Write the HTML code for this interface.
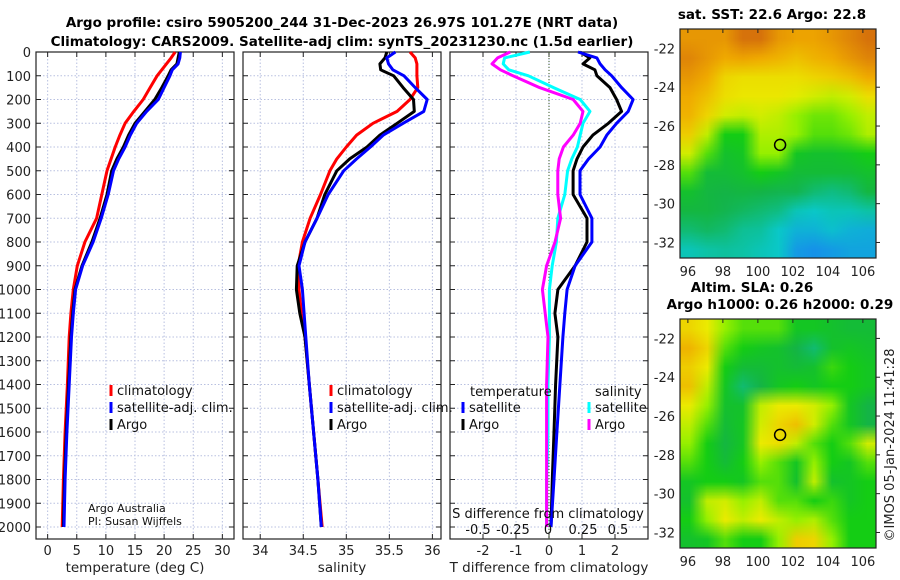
<!DOCTYPE html>
<html><head><meta charset="utf-8"><style>
html,body{margin:0;padding:0;background:#fff;width:900px;height:580px;overflow:hidden}
svg text{font-family:"DejaVu Sans","Liberation Sans",sans-serif}
</style></head><body>
<svg id="fig" width="900" height="580" viewBox="0 0 900 580" xmlns="http://www.w3.org/2000/svg">
<text x="342" y="27" text-anchor="middle" font-size="13.5" font-weight="bold">Argo profile: csiro 5905200_244 31-Dec-2023 26.97S 101.27E (NRT data)</text>
<text x="342" y="46" text-anchor="middle" font-size="13.5" font-weight="bold">Climatology: CARS2009. Satellite-adj clim: synTS_20231230.nc (1.5d earlier)</text>
<g id="p1"></g>
<g id="p2"></g>
<g id="p3"></g>
<g id="m1"></g>
<g id="m2"></g>
<text transform="translate(894,445) rotate(-90)" text-anchor="middle" font-size="13" fill="#222">©IMOS 05-Jan-2024 11:41:28</text>
</svg>
<script>
const depths=[0,25,50,75,100,150,200,250,300,350,400,450,500,600,700,800,900,1000,1100,1200,1400,1600,1800,2000];
const tClim=[21.9,21.2,20.4,19.6,18.8,17.6,16.4,14.8,13.3,12.4,11.6,10.9,10.2,9.3,8.4,6.4,5.1,4.4,4.0,3.7,3.4,3.0,2.7,2.5];
const tSat=[22.8,22.7,22.4,21.4,21.0,20.0,19.0,17.0,15.3,14.2,13.3,12.2,11.3,10.4,9.2,7.8,6.0,4.8,4.4,4.1,3.7,3.3,3.0,2.8];
const tArgo=[22.6,22.4,22.2,21.2,20.7,19.6,18.4,16.7,15.0,13.9,13.0,11.9,11.0,10.2,9.0,7.6,5.9,4.7,4.3,4.0,3.6,3.2,2.9,2.7];
const sClim=[35.74,35.80,35.82,35.82,35.82,35.83,35.74,35.59,35.31,35.12,35.00,34.89,34.81,34.70,34.58,34.49,34.44,34.45,34.48,34.52,34.57,34.62,34.67,34.72];
const sSat=[35.57,35.47,35.49,35.54,35.67,35.80,35.94,35.90,35.66,35.43,35.28,35.12,34.97,34.79,34.66,34.52,34.45,34.49,34.51,34.53,34.57,34.62,34.67,34.71];
const sArgo=[35.47,35.45,35.39,35.40,35.55,35.66,35.78,35.79,35.59,35.39,35.24,35.04,34.89,34.75,34.66,34.52,34.43,34.42,34.46,34.52,34.57,34.62,34.67,34.71];
const dTSat=[0.88,1.45,1.55,1.7,1.9,2.2,2.55,2.4,2.05,1.75,1.55,1.2,0.94,0.94,1.3,1.3,0.79,0.55,0.48,0.42,0.33,0.24,0.15,0.06];
const dTArgo=[0.94,1.24,1.03,1.39,1.45,1.85,2.05,2.2,1.8,1.33,1.03,0.85,0.73,0.73,1.15,1.15,0.79,0.27,0.18,0.27,0.2,0.15,0.1,0.06];
const dSSat=[-0.13,-0.31,-0.32,-0.28,-0.14,0.04,0.23,0.30,0.25,0.23,0.21,0.17,0.14,0.12,0.07,0.06,0.03,0.01,0.01,0.01,0.0,0.0,-0.01,-0.01];
const dSArgo=[-0.27,-0.36,-0.40,-0.34,-0.25,-0.06,0.18,0.25,0.23,0.18,0.11,0.08,0.07,0.07,0.09,0.05,-0.01,-0.04,-0.02,0.0,-0.01,-0.01,-0.01,-0.01];
const depthTicks=[0,100,200,300,400,500,600,700,800,900,1000,1100,1200,1300,1400,1500,1600,1700,1800,1900,2000];
const tTicks=[0,5,10,15,20,25,30];
const sTicks=[34,34.5,35,35.5,36];
const dtTicks=[-2,-1,0,1,2];
const dsTicks=[-0.5,-0.25,0,0.25,0.5];
const dsTickLabels=["-0.5","-0.25","0","0.25","0.5"];
const lonTicks=[96,98,100,102,104,106];
const latTicks=[-22,-24,-26,-28,-30,-32];
const argoLon=101.27, argoLat=-26.97;
const sstGrid=[
[0.85,0.85,0.85,0.95,0.95,0.85,0.82,0.82,0.85,0.9,0.95],
[0.9,0.85,0.8,0.82,0.8,0.78,0.75,0.78,0.8,0.85,0.9],
[0.85,0.8,0.7,0.68,0.68,0.68,0.68,0.7,0.72,0.75,0.8],
[0.8,0.75,0.68,0.66,0.66,0.66,0.64,0.62,0.6,0.62,0.68],
[0.78,0.7,0.62,0.6,0.62,0.6,0.55,0.52,0.52,0.55,0.6],
[0.72,0.6,0.45,0.45,0.58,0.58,0.55,0.5,0.5,0.52,0.58],
[0.62,0.5,0.4,0.42,0.55,0.55,0.42,0.4,0.4,0.42,0.45],
[0.5,0.38,0.38,0.4,0.45,0.42,0.38,0.38,0.38,0.38,0.4],
[0.4,0.36,0.35,0.36,0.35,0.34,0.34,0.3,0.28,0.3,0.36],
[0.36,0.36,0.34,0.32,0.3,0.28,0.22,0.2,0.22,0.22,0.24],
[0.3,0.32,0.3,0.26,0.25,0.2,0.15,0.15,0.18,0.15,0.14],
[0.22,0.24,0.25,0.24,0.22,0.2,0.1,0.08,0.1,0.12,0.12]];
const slaGrid=[
[0.7,0.65,0.55,0.5,0.5,0.5,0.42,0.42,0.4,0.38,0.38],
[0.78,0.7,0.5,0.45,0.42,0.4,0.35,0.3,0.4,0.42,0.4],
[0.72,0.65,0.45,0.38,0.38,0.4,0.38,0.4,0.48,0.45,0.42],
[0.75,0.6,0.42,0.3,0.35,0.42,0.45,0.42,0.45,0.45,0.42],
[0.65,0.55,0.4,0.4,0.6,0.65,0.65,0.62,0.55,0.42,0.35],
[0.6,0.5,0.38,0.42,0.62,0.7,0.75,0.62,0.5,0.42,0.35],
[0.55,0.45,0.36,0.42,0.65,0.68,0.6,0.5,0.45,0.5,0.62],
[0.5,0.45,0.38,0.45,0.55,0.5,0.42,0.55,0.45,0.42,0.5],
[0.42,0.45,0.45,0.42,0.5,0.5,0.4,0.6,0.4,0.42,0.45],
[0.4,0.6,0.62,0.55,0.6,0.5,0.5,0.45,0.48,0.42,0.45],
[0.45,0.55,0.65,0.6,0.65,0.6,0.55,0.58,0.5,0.45,0.45],
[0.4,0.42,0.5,0.45,0.45,0.55,0.72,0.7,0.55,0.45,0.45]];

const NS="http://www.w3.org/2000/svg";
function mk(parent,tag,attrs,txt){const e=document.createElementNS(NS,tag);for(const k in attrs)e.setAttribute(k,attrs[k]);if(txt!==undefined)e.textContent=txt;parent.appendChild(e);return e;}
const Y0=52, PPD=0.2375, YB=539;
function yD(d){return Y0+d*PPD;}

function panel(g,x0,x1,xmin,xmax,ticks,labels,leftLabels,xlabel,name){
  const sx=v=>x0+(v-xmin)/(xmax-xmin)*(x1-x0);
  for(const t of ticks){
    const l=mk(g,'line',{x1:sx(t),x2:sx(t),y1:Y0,y2:YB,stroke:'#b8c0e0','stroke-dasharray':'1.5,2','stroke-width':1});
    
    
  }
  for(const d of depthTicks){
    const l=mk(g,'line',{x1:x0,x2:x1,y1:yD(d),y2:yD(d),stroke:'#b8c0e0','stroke-dasharray':'1.5,2','stroke-width':1});
    
    
    mk(g,'line',{x1:x0,x2:x0+5,y1:yD(d),y2:yD(d),stroke:'#222'});
    mk(g,'line',{x1:x1-5,x2:x1,y1:yD(d),y2:yD(d),stroke:'#222'});
    if(leftLabels){
      const t=mk(g,'text',{x:x0-5,y:yD(d)+5,'text-anchor':'end','font-size':13,fill:'#222'},String(d));
      
      
    }
  }
  ticks.forEach((t,i)=>{
    mk(g,'line',{x1:sx(t),x2:sx(t),y1:YB,y2:YB-5,stroke:'#222'});
    mk(g,'line',{x1:sx(t),x2:sx(t),y1:Y0,y2:Y0+5,stroke:'#222'});
    const tx=mk(g,'text',{x:sx(t),y:555,'text-anchor':'middle','font-size':13,fill:'#222'},labels[i]);
    
    
  });
  const r=mk(g,'rect',{x:x0,y:Y0,width:x1-x0,height:YB-Y0,fill:'none',stroke:'#222','stroke-width':1.2});
  
  
  const xl=mk(g,'text',{x:(x0+x1)/2,y:572,'text-anchor':'middle','font-size':13.5,fill:'#222'},xlabel);
  
  
  return sx;
}
function line(g,sx,vals,color,name){
  const pts=vals.map((v,i)=>sx(v).toFixed(1)+','+yD(depths[i]).toFixed(1)).join(' ');
  const p=mk(g,'polyline',{points:pts,fill:'none',stroke:color,'stroke-width':3,'stroke-linejoin':'round'});
  
  
}
function legend(g,x,y,color,label){
  mk(g,'rect',{x:x-1.5,y:y-12,width:3,height:11,fill:color});
  const t=mk(g,'text',{x:x+6,y:y-2,'font-size':13,fill:'#111'},label);
  
  
}
// Panel 1
const p1=document.getElementById('p1');
const sx1=panel(p1,36,234,-2,32,tTicks,tTicks.map(String),true,'temperature (deg C)','temperature');
line(p1,sx1,tClim,'#ff0000','climatology-temperature-line');
line(p1,sx1,tArgo,'#000000','argo-temperature-line');
line(p1,sx1,tSat,'#0000ff','satellite-temperature-line');
legend(p1,111,397,'#ff0000','climatology');
legend(p1,111,414,'#0000ff','satellite-adj. clim.');
legend(p1,111,431,'#000000','Argo');
mk(p1,'text',{x:88,y:512,'font-size':11,fill:'#111'},'Argo Australia');
mk(p1,'text',{x:88,y:525,'font-size':11,fill:'#111'},'PI: Susan Wijffels');
// Panel 2
const p2=document.getElementById('p2');
const sx2=panel(p2,243,441,33.8,36.1,sTicks,sTicks.map(String),false,'salinity','salinity');
line(p2,sx2,sClim,'#ff0000','climatology-salinity-line');
line(p2,sx2,sArgo,'#000000','argo-salinity-line');
line(p2,sx2,sSat,'#0000ff','satellite-salinity-line');
legend(p2,331,397,'#ff0000','climatology');
legend(p2,331,414,'#0000ff','satellite-adj. clim.');
legend(p2,331,431,'#000000','Argo');
// Panel 3
const p3=document.getElementById('p3');
const sx3=panel(p3,450,648,-3,3,dtTicks,dtTicks.map(String),false,'T difference from climatology','difference');
const sxS=v=>548+v*140;
mk(p3,'line',{x1:sx3(0),x2:sx3(0),y1:Y0,y2:YB,stroke:'#3a5a20','stroke-dasharray':'1,2','stroke-width':1});
line(p3,sx3,dTArgo,'#000000','argo-temperature-diff-line');
line(p3,sx3,dTSat,'#0000ff','satellite-temperature-diff-line');
line(p3,sxS,dSSat,'#00ffff','satellite-salinity-diff-line');
line(p3,sxS,dSArgo,'#ff00ff','argo-salinity-diff-line');
mk(p3,'text',{x:470,y:396,'font-size':13,fill:'#111'},'temperature');
legend(p3,463,414,'#0000ff','satellite');
legend(p3,463,431,'#000000','Argo');
mk(p3,'text',{x:595,y:396,'font-size':13,fill:'#111'},'salinity');
legend(p3,589,414,'#00ffff','satellite');
legend(p3,589,431,'#ff00ff','Argo');
mk(p3,'text',{x:548,y:518,'text-anchor':'middle','font-size':13,fill:'#111'},'S difference from climatology');
dsTicks.forEach((t,i)=>{
  const tx=mk(p3,'text',{x:sxS(t),y:534,'text-anchor':'middle','font-size':13,fill:'#111'},dsTickLabels[i]);
  
  
});
// maps
const stops=[[0,[30,110,255]],[0.2,[10,200,200]],[0.35,[20,180,70]],[0.45,[20,205,20]],[0.55,[150,240,0]],[0.65,[235,235,0]],[0.8,[240,170,0]],[1,[205,95,15]]];
function cmap(v){for(let i=1;i<stops.length;i++){if(v<=stops[i][0]){const a=stops[i-1],b=stops[i];const f=(v-a[0])/(b[0]-a[0]);return a[1].map((c,k)=>Math.round(c+(b[1][k]-c)*f));}}return stops[stops.length-1][1];}
function map(gid,top,grid,smooth,title1,title2){
  const g=document.getElementById(gid);
  const x0=680,x1=876,y1=top+229;
  const lonMin=95.55,lonMax=106.75,latMax=-21.0,latMin=-32.8;
  const sx=v=>x0+(v-lonMin)/(lonMax-lonMin)*(x1-x0);
  const sy=v=>top+(latMax-v)/(latMax-latMin)*(y1-top);
  const fo=mk(g,'foreignObject',{x:x0,y:top,width:x1-x0,height:y1-top});
  const c=document.createElement('canvas');
  
  
  const R=grid.length,C=grid[0].length;
  c.width=C;c.height=R;
  c.style.cssText='width:'+(x1-x0)+'px;height:'+(y1-top)+'px;display:block;image-rendering:'+(smooth?'auto':'auto');
  const ctx=c.getContext('2d');const im=ctx.createImageData(C,R);
  grid.forEach((row,r)=>row.forEach((v,k)=>{const col=cmap(v);const o=(r*C+k)*4;im.data[o]=col[0];im.data[o+1]=col[1];im.data[o+2]=col[2];im.data[o+3]=255;}));
  ctx.putImageData(im,0,0);
  fo.appendChild(c);
  mk(g,'rect',{x:x0,y:top,width:x1-x0,height:y1-top,fill:'none',stroke:'#222','stroke-width':1.2});
  for(const t of lonTicks){
    mk(g,'line',{x1:sx(t),x2:sx(t),y1:top,y2:top+4,stroke:'#222'});
    const tx=mk(g,'text',{x:sx(t),y:y1+18,'text-anchor':'middle','font-size':13,fill:'#222'},String(t));
    
    
  }
  for(const t of latTicks){
    mk(g,'line',{x1:x1,x2:x1+4,y1:sy(t),y2:sy(t),stroke:'#222'});
    const tx=mk(g,'text',{x:x0-5,y:sy(t)+5,'text-anchor':'end','font-size':13,fill:'#222'},String(t));
    
    
  }
  const ci=mk(g,'circle',{cx:sx(argoLon),cy:sy(argoLat),r:5.5,fill:'none',stroke:'#000','stroke-width':1.5});
  
  
  if(title2){
    mk(g,'text',{x:752,y:top-27,'text-anchor':'middle','font-size':13.5,'font-weight':'bold'},title1);
    mk(g,'text',{x:780,y:top-10,'text-anchor':'middle','font-size':13.5,'font-weight':'bold'},title2);
  } else {
    mk(g,'text',{x:772,y:top-10,'text-anchor':'middle','font-size':13.5,'font-weight':'bold'},title1);
  }
}
map('m1',29,sstGrid,false,'sat. SST: 22.6 Argo: 22.8');
map('m2',319,slaGrid,true,'Altim. SLA: 0.26','Argo h1000: 0.26 h2000: 0.29');
</script>
</body></html>
